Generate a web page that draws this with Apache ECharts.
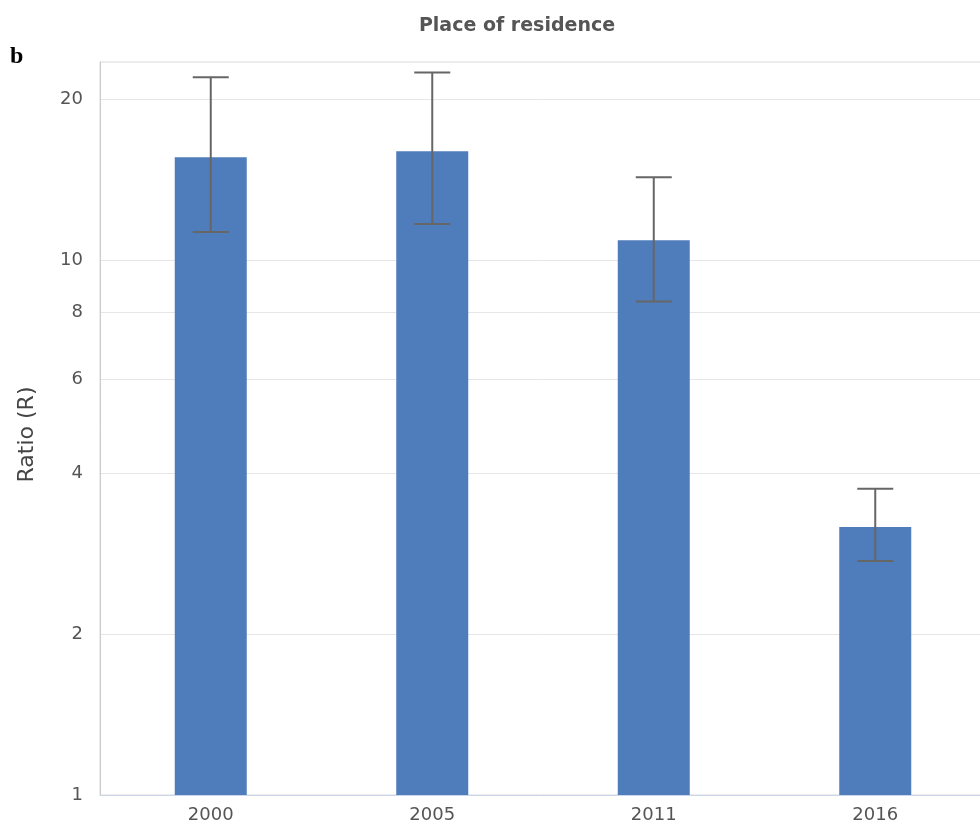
<!DOCTYPE html>
<html>
<head>
<meta charset="utf-8">
<script src="https://cdn.jsdelivr.net/npm/echarts@6/dist/echarts.min.js"></script>
<style>
  html, body { margin: 0; padding: 0; background: #fff; }
  #chart { width: 980px; height: 829px; }
</style>
</head>
<body>
<div id="chart"></div>
<script>
// Survey years and the ratio estimate with its confidence bounds
const years = ['2000', '2005', '2011', '2016'];
const ratio = [15.6, 16.0, 10.9, 3.17];
const ratioLow = [11.3, 11.7, 8.38, 2.74];
const ratioHigh = [22.0, 22.45, 14.3, 3.74];
const yTicks = [1, 2, 4, 6, 8, 10, 20];
const gridTicks = [2, 4, 6, 8, 10, 20];

const chart = echarts.init(document.getElementById('chart'), null, { renderer: 'canvas' });

const errorData = years.map((y, i) => [i, ratioLow[i], ratioHigh[i]]);

chart.setOption({
  animation: false,
  backgroundColor: '#ffffff',
  title: [
    {
      text: 'Place of residence',
      left: 512, top: 12, textAlign: 'center',
      textStyle: { fontFamily: 'DejaVu Sans', fontWeight: 'bold', fontSize: 19, color: '#555555' }
    },
    {
      text: 'b',
      left: 5, top: 40,
      textStyle: { fontFamily: 'Liberation Serif', fontWeight: 'bold', fontSize: 24, color: '#000000' }
    }
  ],
  // plot area runs a little past the right edge of the page
  grid: {
    left: 100, top: 62, bottom: 34, width: 886,
    outerBoundsMode: 'none',
    containLabel: false,
    show: true, borderColor: '#d9d9d9', borderWidth: 1, backgroundColor: 'transparent'
  },
  xAxis: {
    type: 'category',
    data: years,
    axisLine: { lineStyle: { color: '#ccd6eb', width: 1 } },
    axisTick: { show: false },
    axisLabel: { fontFamily: 'DejaVu Sans', fontSize: 18, color: '#555555', margin: 11 }
  },
  yAxis: {
    type: 'log',
    logBase: 10,
    min: 1,
    max: 23.5,
    name: 'Ratio (R)',
    nameLocation: 'middle',
    nameGap: 62,
    nameTextStyle: {
      fontFamily: 'DejaVu Sans', fontSize: 22, color: '#444444',
      padding: [0, 12, 0, 0]
    },
    axisLine: { show: true, lineStyle: { color: '#cccccc', width: 1 } },
    axisTick: { show: false },
    splitLine: { show: false },
    axisLabel: {
      customValues: yTicks,
      fontFamily: 'DejaVu Sans', fontSize: 18, color: '#555555', margin: 17,
      formatter: v => String(Math.round(v))
    }
  },
  series: [
    {
      type: 'bar',
      data: ratio,
      barWidth: 72,
      itemStyle: { color: '#4f7cba' },
      markLine: {
        silent: true,
        symbol: 'none',
        label: { show: false },
        lineStyle: { color: '#e6e6e6', width: 1, type: 'solid' },
        data: gridTicks.map(v => ({ yAxis: v })),
        z: 0
      },
      z: 2
    },
    {
      type: 'custom',
      data: errorData,
      z: 5,
      renderItem: function (params, api) {
        const idx = api.value(0);
        const lo = api.coord([idx, api.value(1)]);
        const hi = api.coord([idx, api.value(2)]);
        const half = 18;
        const style = { stroke: '#666666', lineWidth: 2 };
        return {
          type: 'group',
          children: [
            { type: 'line', shape: { x1: hi[0], y1: hi[1], x2: lo[0], y2: lo[1] }, style },
            { type: 'line', shape: { x1: hi[0] - half, y1: hi[1], x2: hi[0] + half, y2: hi[1] }, style },
            { type: 'line', shape: { x1: lo[0] - half, y1: lo[1], x2: lo[0] + half, y2: lo[1] }, style }
          ]
        };
      }
    }
  ]
});
</script>
</body>
</html>
